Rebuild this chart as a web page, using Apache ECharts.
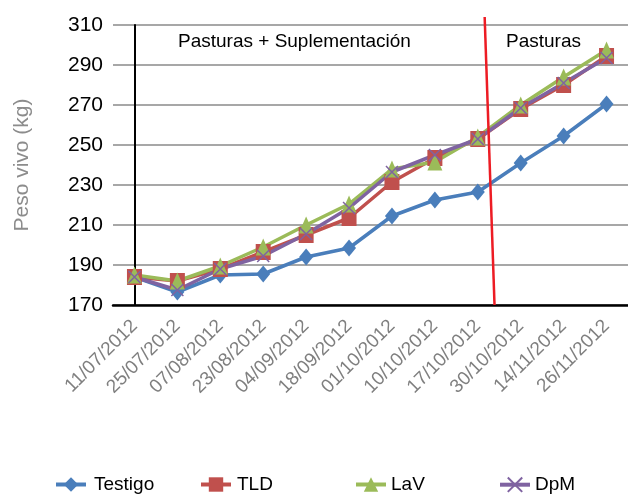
<!DOCTYPE html>
<html><head><meta charset="utf-8">
<script src="https://cdn.jsdelivr.net/npm/echarts@6/dist/echarts.min.js"></script>
<style>html,body{margin:0;padding:0;background:#fff}#c{width:628px;height:496px}</style>
</head><body><div id="c"></div>
<script>
var categories = ['11/07/2012','25/07/2012','07/08/2012','23/08/2012','04/09/2012','18/09/2012','01/10/2012','10/10/2012','17/10/2012','30/10/2012','14/11/2012','26/11/2012'];
var testigo = [184, 176.5, 185, 185.5, 194, 198.5, 214.5, 222.5, 226.5, 241, 254.5, 270.5];
var tld     = [184, 182, 188, 196.5, 205, 213.5, 231.5, 243.5, 253, 268, 280, 294.5];
var lav     = [185, 182, 189.5, 199, 210, 220.5, 238, 241.5, 254, 270, 284, 297.5];
var dpm     = [184, 177.5, 188, 194.5, 205.5, 218.5, 236.5, 245, 253, 268.5, 281, 293.5];
var yTicks  = {min: 170, max: 310, step: 20};
var divider = [[8.16, 314], [8.39, 170]];
var phaseLabels = ['Pasturas + Suplementación', 'Pasturas'];

var FONT = '"Liberation Sans",Arial,sans-serif';
var colors = {Testigo:'#4A7EBB', TLD:'#C0504D', LaV:'#9BBB59', DpM:'#7F63A1'};
var xPath = 'path://M0,0L10,10M10,0L0,10';

function mk(name, data, symbol, size, extra){
  var s = {name:name, type:'line', data:data, symbol:symbol, symbolSize:size,
    lineStyle:{width:3.5, color:colors[name]}, itemStyle:{color:colors[name]},
    z: 3};
  if (extra) for (var k in extra) s[k]=extra[k];
  return s;
}

var legendDefs = [['Testigo',54,3],['TLD',199,1],['LaV',354,0],['DpM',498,0]];

var chart = echarts.init(document.getElementById('c'));
chart.setOption({
  animation:false,
  textStyle:{fontFamily:FONT},
  grid:{left:113, top:25, width:520, height:280, containLabel:false},
  xAxis:[{
    type:'category', data:categories, boundaryGap:true,
    axisLine:{lineStyle:{color:'#000', width:2.5}},
    axisTick:{show:false},
    axisLabel:{rotate:45, color:'#7F7F7F', fontSize:19, fontFamily:FONT, margin:18, interval:0}
  },{
    type:'value', min:-0.5, max:11.5, show:false
  }],
  yAxis:{
    type:'value', min:yTicks.min, max:yTicks.max, interval:yTicks.step,
    name:'Peso vivo (kg)', nameLocation:'middle', nameGap:80,
    nameTextStyle:{color:'#8C8C8C', fontSize:21, fontFamily:FONT},
    axisLine:{show:true, lineStyle:{color:'#000', width:2}},
    axisTick:{show:false},
    axisLabel:{color:'#000', fontSize:21, fontFamily:FONT, margin:10},
    splitLine:{lineStyle:{color:'#8A8A8A', width:1.6}}
  },
  legend: legendDefs.map(function(d){
    return {data:[d[0]], left:d[1], top:475, itemWidth:30, itemHeight:18, padding:0,
      lineStyle:{width:4},
      textStyle:{fontSize:19, color:'#000', fontFamily:FONT, padding:[0,0,0,d[2]]}};
  }),
  graphic:[
    {type:'text', left:178, top:32, style:{text:phaseLabels[0], font:'19px '+FONT, fill:'#000'}},
    {type:'text', left:506, top:32, style:{text:phaseLabels[1], font:'19px '+FONT, fill:'#000'}}
  ],
  series:[
    mk('Testigo', testigo, 'diamond', [14,17]),
    mk('TLD', tld, 'rect', [15,16]),
    mk('LaV', lav, 'triangle', [15,17]),
    mk('DpM', dpm, xPath, 12, {itemStyle:{color:'none', borderColor:colors.DpM, borderWidth:1.5}}),
    {type:'line', xAxisIndex:1, data:divider, symbol:'none', clip:false, silent:true,
      lineStyle:{color:'#ED1C24', width:2.5}, z:5, tooltip:{show:false}}
  ]
});
</script></body></html>
